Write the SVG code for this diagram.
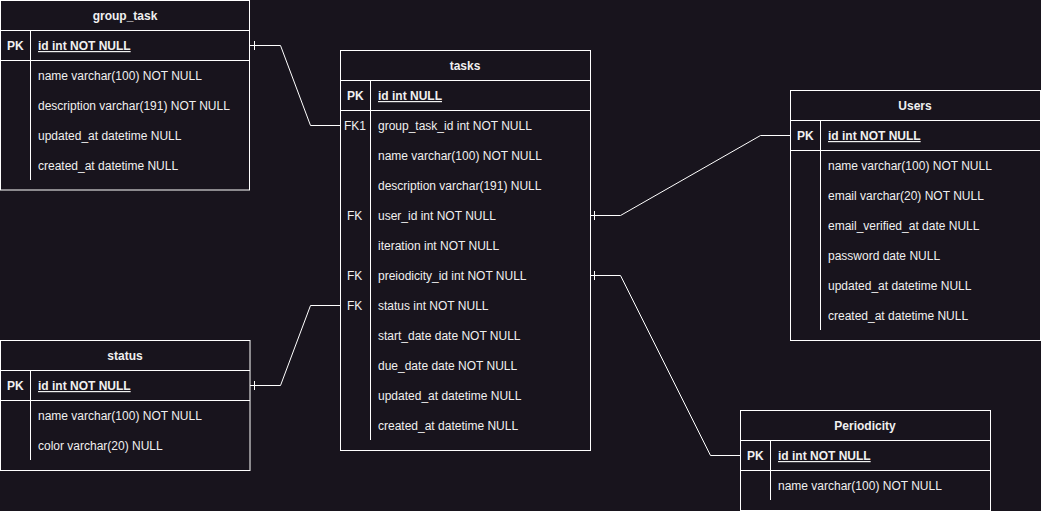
<svg xmlns="http://www.w3.org/2000/svg" width="1041" height="511" viewBox="0 0 1041 511">
<style>
.bg{fill:#18141d}
.box{fill:#18141d;stroke:#ffffff;stroke-width:1}
.ln{stroke:#ffffff;stroke-width:1;fill:none}
text{font-family:"Liberation Sans",Arial,Helvetica,sans-serif;font-size:12px;fill:#f0f0f0}
.h{font-weight:bold;text-anchor:middle}
.k{font-weight:bold}
.pk{font-weight:bold;text-decoration:underline}
.c{stroke:#ffffff;stroke-width:1;fill:none}
</style>
<rect class="bg" x="0" y="0" width="1041" height="511"/>

<g id="group_task">
<rect class="box" x="0.5" y="0.5" width="249" height="189.5"/>
<line class="ln" x1="0.5" y1="30.5" x2="249.5" y2="30.5"/>
<line class="ln" x1="0.5" y1="60.5" x2="249.5" y2="60.5"/>
<line class="ln" x1="30.5" y1="30.5" x2="30.5" y2="180"/>
<text class="h" x="125" y="20">group_task</text>
<text class="k" x="7" y="50">PK</text>
<text class="pk" x="38" y="50">id int NOT NULL</text>
<text x="38" y="80">name varchar(100) NOT NULL</text>
<text x="38" y="110">description varchar(191) NOT NULL</text>
<text x="38" y="140">updated_at datetime NULL</text>
<text x="38" y="170">created_at datetime NULL</text>
</g>

<g id="tasks">
<rect class="box" x="340.5" y="50.5" width="250" height="400"/>
<line class="ln" x1="340.5" y1="80.5" x2="590.5" y2="80.5"/>
<line class="ln" x1="340.5" y1="110.5" x2="590.5" y2="110.5"/>
<line class="ln" x1="370.5" y1="80.5" x2="370.5" y2="440"/>
<text class="h" x="465" y="70">tasks</text>
<text class="k" x="347" y="100">PK</text>
<text class="pk" x="378" y="100">id int NULL</text>
<text x="344" y="130">FK1</text>
<text x="378" y="130">group_task_id int NOT NULL</text>
<text x="378" y="160">name varchar(100) NOT NULL</text>
<text x="378" y="190">description varchar(191) NULL</text>
<text x="347" y="220">FK</text>
<text x="378" y="220">user_id int NOT NULL</text>
<text x="378" y="250">iteration int NOT NULL</text>
<text x="347" y="280">FK</text>
<text x="378" y="280">preiodicity_id int NOT NULL</text>
<text x="347" y="310">FK</text>
<text x="378" y="310">status int NOT NULL</text>
<text x="378" y="340">start_date date NOT NULL</text>
<text x="378" y="370">due_date date NOT NULL</text>
<text x="378" y="400">updated_at datetime NULL</text>
<text x="378" y="430">created_at datetime NULL</text>
</g>

<g id="users">
<rect class="box" x="790.5" y="90.5" width="250" height="250"/>
<line class="ln" x1="790.5" y1="120.5" x2="1040.5" y2="120.5"/>
<line class="ln" x1="790.5" y1="150.5" x2="1040.5" y2="150.5"/>
<line class="ln" x1="820.5" y1="120.5" x2="820.5" y2="330"/>
<text class="h" x="915" y="110">Users</text>
<text class="k" x="797" y="140">PK</text>
<text class="pk" x="828" y="140">id int NOT NULL</text>
<text x="828" y="170">name varchar(100) NOT NULL</text>
<text x="828" y="200">email varchar(20) NOT NULL</text>
<text x="828" y="230">email_verified_at date NULL</text>
<text x="828" y="260">password date NULL</text>
<text x="828" y="290">updated_at datetime NULL</text>
<text x="828" y="320">created_at datetime NULL</text>
</g>

<g id="status">
<rect class="box" x="0.5" y="340.5" width="249.5" height="130"/>
<line class="ln" x1="0.5" y1="370.5" x2="250" y2="370.5"/>
<line class="ln" x1="0.5" y1="400.5" x2="250" y2="400.5"/>
<line class="ln" x1="30.5" y1="370.5" x2="30.5" y2="460"/>
<text class="h" x="125" y="360">status</text>
<text class="k" x="7" y="390">PK</text>
<text class="pk" x="38" y="390">id int NOT NULL</text>
<text x="38" y="420">name varchar(100) NOT NULL</text>
<text x="38" y="450">color varchar(20) NULL</text>
</g>

<g id="periodicity">
<rect class="box" x="740.5" y="410.5" width="250" height="100"/>
<line class="ln" x1="740.5" y1="440.5" x2="990.5" y2="440.5"/>
<line class="ln" x1="740.5" y1="470.5" x2="990.5" y2="470.5"/>
<line class="ln" x1="770.5" y1="440.5" x2="770.5" y2="500"/>
<text class="h" x="865" y="430">Periodicity</text>
<text class="k" x="747" y="460">PK</text>
<text class="pk" x="778" y="460">id int NOT NULL</text>
<text x="778" y="490">name varchar(100) NOT NULL</text>
</g>

<g id="connectors">
<polyline class="c" points="250,45.5 280.5,45.5 310.5,125.5 340,125.5"/>
<line class="c" x1="254.5" y1="41" x2="254.5" y2="50"/>
<polyline class="c" points="790,135.5 760.5,135.5 620.5,215.5 591,215.5"/>
<line class="c" x1="594.5" y1="211" x2="594.5" y2="220"/>
<polyline class="c" points="740,455.5 710.5,455.5 620.5,275.5 591,275.5"/>
<line class="c" x1="594.5" y1="271" x2="594.5" y2="280"/>
<polyline class="c" points="250,385.5 280.5,385.5 310.5,305.5 340,305.5"/>
<line class="c" x1="254.5" y1="381" x2="254.5" y2="390"/>
</g>
</svg>
